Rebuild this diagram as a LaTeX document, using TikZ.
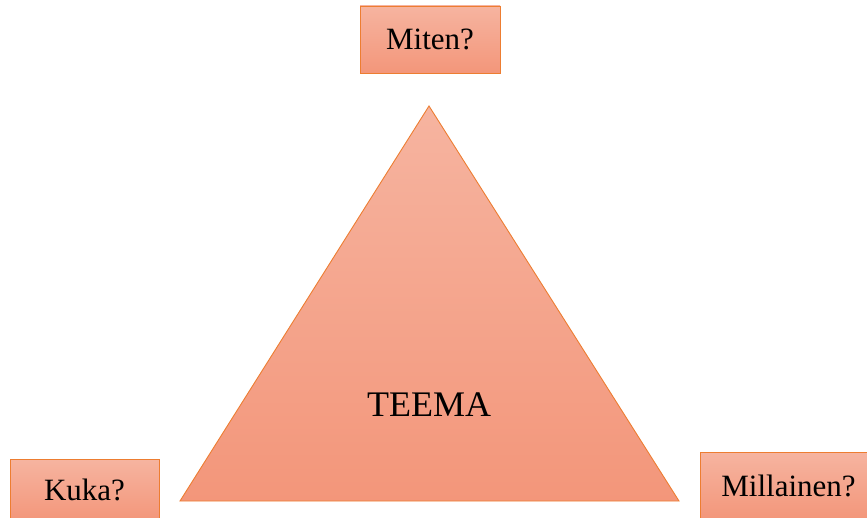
\documentclass[tikz,border=0pt]{standalone}
\usepackage{fontspec}
\setmainfont{Liberation Serif}
\usetikzlibrary{positioning}
\definecolor{acc}{RGB}{237,125,49}
\definecolor{topc}{RGB}{246,180,160}
\definecolor{botc}{RGB}{243,150,122}
\tikzset{q/.style={draw=acc,line width=0.9pt,top color=topc,bottom color=botc,minimum width=140pt,minimum height=67pt,inner sep=0pt,font=\fontsize{31}{36}\selectfont},
 tri/.style={draw=acc,line width=0.9pt,top color=topc,bottom color=botc},
 big/.style={font=\fontsize{36}{40}\selectfont}}
\begin{document}
\begin{tikzpicture}[x=1pt,y=1pt]
\useasboundingbox (0,0) rectangle (867,517);
\coordinate (top) at (429,411);\coordinate (bl) at (180,16);\coordinate (br) at (679,16);
\path[tri] (top) -- (bl) -- (br) -- cycle;
\node[big] (teema) at (429,112) {TEEMA};
\node[q] (miten) at (430,477.5) {Miten?};
\node[q,minimum width=149pt,minimum height=62pt] (kuka) at (84.5,27) {Kuka?};
\node[q,minimum width=177pt] (millainen) at (788.5,31) {Millainen?};
\end{tikzpicture}
\end{document}
